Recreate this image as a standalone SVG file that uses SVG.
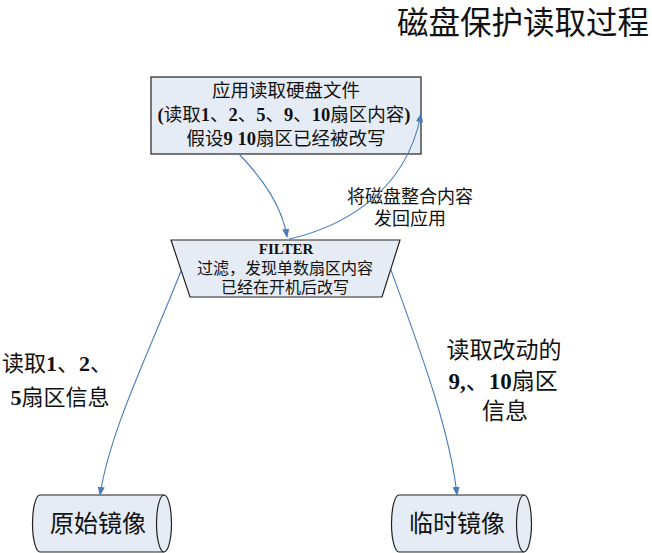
<svg xmlns="http://www.w3.org/2000/svg" width="652" height="553" viewBox="0 0 652 553">
<defs>
<marker id="arr" viewBox="0 0 10 10" refX="9" refY="5" markerWidth="9" markerHeight="9" markerUnits="userSpaceOnUse" orient="auto">
<path d="M0,1 L10,5 L0,9 Z" fill="#4a7ebb"/>
</marker>
<style>
.shape{fill:#e6ecf6;stroke:#222;stroke-width:1.2}
.conn{fill:none;stroke:#4a7ebb;stroke-width:1.1;marker-end:url(#arr)}
text{font-family:"Liberation Serif","Noto Sans CJK SC",serif;fill:#111}
.b{font-weight:bold}
</style>
</defs>
<rect width="652" height="553" fill="#fff"/>
<text x="523" y="34" font-size="31.5" text-anchor="middle">磁盘保护读取过程</text>
<g id="app">
<rect class="shape" x="151" y="77" width="270" height="77"/>
<text x="286" y="97" font-size="18.5" text-anchor="middle">应用读取硬盘文件</text>
<text x="284" y="121" font-size="18.5" text-anchor="middle"><tspan class="b">(</tspan>读取<tspan class="b">1</tspan>、<tspan class="b">2</tspan>、<tspan class="b">5</tspan>、<tspan class="b">9</tspan>、<tspan class="b">10</tspan>扇区内容<tspan class="b">)</tspan></text>
<text x="286" y="145" font-size="18.5" text-anchor="middle">假设<tspan class="b">9 10</tspan>扇区已经被改写</text>
</g>
<g id="filter">
<path class="shape" d="M171,240 L400,240 L382,297 L190,297 Z"/>
<text x="286" y="254" font-size="15" text-anchor="middle" class="b">FILTER</text>
<text x="285" y="274" font-size="16" text-anchor="middle">过滤，发现单数扇区内容</text>
<text x="285" y="293" font-size="16" text-anchor="middle">已经在开机后改写</text>
</g>
<g id="return-label">
<text x="410" y="203" font-size="18" text-anchor="middle">将磁盘整合内容</text>
<text x="410" y="225" font-size="18" text-anchor="middle">发回应用</text>
</g>
<g id="left-label">
<text x="57" y="371" font-size="22" text-anchor="middle">读取<tspan class="b">1</tspan>、<tspan class="b">2</tspan>、</text>
<text x="60" y="405" font-size="22" text-anchor="middle"><tspan class="b">5</tspan>扇区信息</text>
</g>
<g id="right-label">
<text x="504" y="358" font-size="23" text-anchor="middle">读取改动的</text>
<text x="503" y="389" font-size="23" text-anchor="middle"><tspan class="b">9,</tspan>、<tspan class="b">10</tspan>扇区</text>
<text x="505" y="419" font-size="23" text-anchor="middle">信息</text>
</g>
<g id="original-image">
<path class="shape" d="M40,495 L164,495 A7.5,28.5 0 0 1 164,552 L40,552 A7.5,28.5 0 0 1 40,495 Z"/>
<path d="M164,495 A7.5,28.5 0 0 0 164,552" fill="none" stroke="#222" stroke-width="1.2"/>
<text x="98" y="532" font-size="24" text-anchor="middle">原始镜像</text>
</g>
<g id="temp-image">
<path class="shape" d="M399,495 L524,495 A7.5,28.5 0 0 1 524,552 L399,552 A7.5,28.5 0 0 1 399,495 Z"/>
<path d="M524,495 A7.5,28.5 0 0 0 524,552" fill="none" stroke="#222" stroke-width="1.2"/>
<text x="457" y="532" font-size="24" text-anchor="middle">临时镜像</text>
</g>
<g id="connectors">
<path class="conn" d="M239,154 C262,178 282,205 287,237"/>
<path class="conn" d="M289,239 C330,230 405,200 421,114"/>
<path class="conn" d="M181,271 C150,350 110,430 100,495"/>
<path class="conn" d="M391,270 C420,350 450,430 457,495"/>
</g>
</svg>
